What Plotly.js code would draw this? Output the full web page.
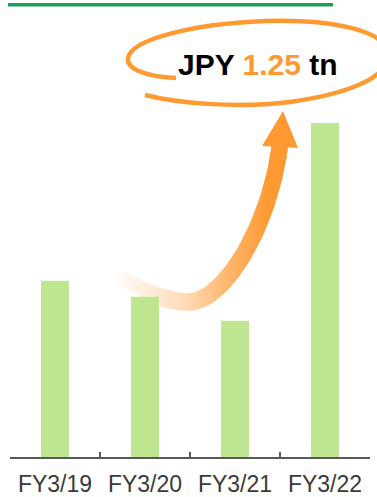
<!DOCTYPE html>
<html>
<head>
<meta charset="utf-8">
<script src="https://cdn.plot.ly/plotly-3.0.1.min.js"></script>
<style>html,body{margin:0;padding:0;background:#fff;}#chart{width:377px;height:497px;}</style>
</head>
<body>
<div id="chart"></div>
<script>
// ---- data ----
const categories = ['FY3/19', 'FY3/20', 'FY3/21', 'FY3/22'];
const revenueTn = [0.66, 0.60, 0.51, 1.25];
const calloutCurrency = 'JPY';
const calloutValue = '1.25';
const calloutUnit = 'tn';

// ---- styles ----
const W = 377, H = 497;
const ORANGE = '#ff9a33';
const BAR_GREEN = '#bee58f';
const TOP_GREEN = '#1c9f5b';

// ---- decorative arrow (pixel coordinates on a hidden full-page axis pair) ----
function bez(p0, p1, p2, p3, t) {
  const u = 1 - t;
  return [
    u*u*u*p0[0] + 3*u*u*t*p1[0] + 3*u*t*t*p2[0] + t*t*t*p3[0],
    u*u*u*p0[1] + 3*u*u*t*p1[1] + 3*u*t*t*p2[1] + t*t*t*p3[1]
  ];
}
const segA = [[116, 276], [145, 290], [163, 302], [188, 302]];
const segB = [[188, 302], [225, 302], [270, 225], [280, 145]];
const center = [];
const N = 40;
for (let i = 0; i <= N; i++) center.push(bez(...segA, i / N));
for (let i = 1; i <= N; i++) center.push(bez(...segB, i / N));
const M = center.length;
function widthAt(k) {
  const f = k / (M - 1);
  if (f < 0.35) return 13 + (18 - 13) * (f / 0.35);
  return 18 - 1.5 * ((f - 0.35) / 0.65);
}
const left = [], right = [];
for (let k = 0; k < M; k++) {
  const a = center[Math.max(0, k - 1)], b = center[Math.min(M - 1, k + 1)];
  let tx = b[0] - a[0], ty = b[1] - a[1];
  const L = Math.hypot(tx, ty); tx /= L; ty /= L;
  const nx = -ty, ny = tx, w = widthAt(k) / 2;
  left.push([center[k][0] + nx * w, center[k][1] + ny * w]);
  right.push([center[k][0] - nx * w, center[k][1] - ny * w]);
}
const poly = left.concat(right.reverse());
poly.push(poly[0]);

// arrow body lives on the first (pixel) subplot so the bars draw above it
const arrowTrace = {
  type: 'scatter', mode: 'lines', xaxis: 'x', yaxis: 'y',
  x: poly.map(p => p[0]), y: poly.map(p => p[1]),
  fill: 'toself', line: {width: 0, color: 'rgba(0,0,0,0)'},
  fillgradient: {
    type: 'horizontal', start: 110, stop: 268,
    colorscale: [
      [0, 'rgba(255,154,51,0)'],
      [0.45, 'rgba(255,154,51,0.33)'],
      [0.75, 'rgba(255,154,51,0.72)'],
      [1, 'rgba(255,154,51,1)']
    ]
  },
  hoverinfo: 'skip', showlegend: false
};
const barTrace = {
  type: 'bar', x: categories, y: revenueTn, xaxis: 'x2', yaxis: 'y2',
  width: 0.31, marker: {color: BAR_GREEN, line: {width: 0}},
  hoverinfo: 'skip', showlegend: false
};

const layout = {
  width: W, height: H,
  margin: {l: 0, r: 0, t: 0, b: 0},
  paper_bgcolor: '#ffffff', plot_bgcolor: 'rgba(0,0,0,0)',
  showlegend: false,
  xaxis: {domain: [0, 1], anchor: 'y', range: [0, W], visible: false, fixedrange: true},
  yaxis: {domain: [0, 1], anchor: 'x', range: [H, 0], visible: false, fixedrange: true},
  xaxis2: {
    domain: [10 / W, 370 / W], anchor: 'y2', type: 'category',
    range: [-0.5, 3.5], fixedrange: true,
    showline: true, linecolor: '#595959', linewidth: 1.5,
    ticks: 'inside', tickson: 'boundaries', ticklen: 5, tickwidth: 1.5, tickcolor: '#595959',
    showgrid: false, zeroline: false,
    tickfont: {family: 'Liberation Sans, Arial, sans-serif', size: 23, color: '#3a3a3a'},
    ticklabelstandoff: 6
  },
  yaxis2: {
    domain: [(H - 457) / H, 1], anchor: 'x2',
    range: [0, 1.25 * 457 / 334], visible: false, fixedrange: true
  },
  shapes: [
    {type: 'line', xref: 'x', yref: 'y', x0: 8, x1: 333, y0: 4.8, y1: 4.8,
     line: {color: TOP_GREEN, width: 3.5}, layer: 'above'},
    {type: 'path', xref: 'x', yref: 'y',
     path: 'M 262,146 L 283,111 L 298,148 Z',
     fillcolor: ORANGE, line: {width: 0}, layer: 'above'},
    {type: 'path', xref: 'x', yref: 'y',
     path: 'M 176,78 C 150,77 126,70 128,58 C 131,40 190,24 265,21 C 330,19 388,30 388,55 C 388,80 340,95 290,102 C 240,108 180,104 145,95',
     line: {color: ORANGE, width: 4.5}, layer: 'above'}
  ],
  annotations: [
    {xref: 'x', yref: 'y', x: 258, y: 64, xanchor: 'center', yanchor: 'middle',
     showarrow: false,
     text: '<b>' + calloutCurrency + ' <span style="color:' + ORANGE + '">' + calloutValue + '</span> ' + calloutUnit + '</b>',
     font: {family: 'Liberation Sans, Arial, sans-serif', size: 30, color: '#000000'}}
  ]
};

Plotly.newPlot('chart', [arrowTrace, barTrace], layout, {staticPlot: true, displayModeBar: false});
</script>
</body>
</html>
